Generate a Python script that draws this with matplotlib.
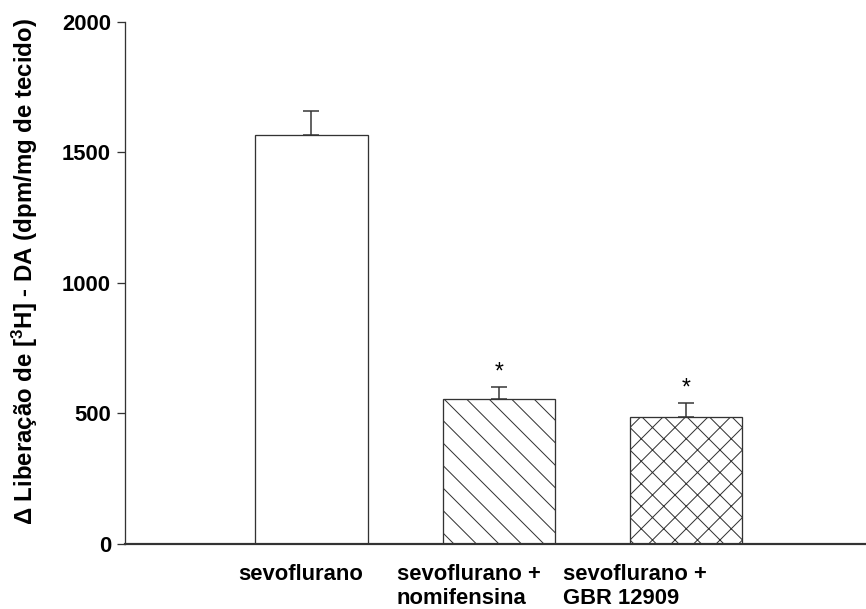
import numpy as np
import matplotlib
matplotlib.use("Agg")
import matplotlib.pyplot as plt

# data
groups = ["sevoflurano", "sevoflurano +\nnomifensina", "sevoflurano +\nGBR 12909"]
values = [1567, 554, 485]
errors = [91, 48, 56]
hatches = ["", "\\\\", "xx"]
signif = ["", "*", "*"]

DPI = 135
px = 72.0 / DPI  # points per pixel

plt.rcParams["font.family"] = ["Liberation Sans", "DejaVu Sans"]
plt.rcParams["font.weight"] = "bold"
plt.rcParams["mathtext.fontset"] = "custom"
plt.rcParams["mathtext.bf"] = "Liberation Sans:bold"
plt.rcParams["mathtext.rm"] = "Liberation Sans:bold"
plt.rcParams["hatch.linewidth"] = 1.0 * px
plt.rcParams["hatch.color"] = "black"

fig = plt.figure(figsize=(866 / DPI, 609 / DPI), dpi=DPI)
ax = fig.add_axes([125 / 866, 65 / 609, 1 - 125 / 866, (544 - 21.7) / 609])

x = np.arange(len(groups))
ax.bar(x, values, width=0.6, color="white", edgecolor="#333333",
       linewidth=1.3 * px, hatch=hatches, zorder=2)
ax.errorbar(x, values, yerr=[np.zeros(len(errors)), errors], fmt="none",
            ecolor="#333333", elinewidth=1.5 * px, capsize=8 * px,
            capthick=1.5 * px, zorder=3)

for xi, v, e, s in zip(x, values, errors, signif):
    if s:
        ax.text(xi, v + e + 12, s, ha="center", va="bottom",
                fontsize=23 * px, fontweight="normal")

ax.set_xlim(-0.995, 2.96)
ax.set_ylim(0, 2000)
ax.set_yticks([0, 500, 1000, 1500, 2000])
# labels start left of the bar centres in the original (offsets in bar spacings)
label_shift = np.array([-0.39, -0.545, -0.658])
ax.set_xticks(x + label_shift)
ax.set_xticklabels(groups, fontsize=22 * px, fontweight="bold",
                   linespacing=1.2, ha="left", multialignment="left")
ax.tick_params(axis="x", length=0, pad=20 * px)
ax.tick_params(axis="y", length=8 * px, width=1.3 * px, pad=6 * px,
               labelsize=22 * px, color="#333333")
for lbl in ax.get_yticklabels():
    lbl.set_fontweight("bold")

ax.spines["top"].set_visible(False)
ax.spines["right"].set_visible(False)
ax.spines["left"].set_linewidth(1.3 * px)
ax.spines["left"].set_color("#333333")
ax.spines["bottom"].set_linewidth(2.2 * px)
ax.spines["bottom"].set_color("#333333")

ax.set_ylabel(r"Δ Liberação de [$\mathbf{^{3}}$H] - DA (dpm/mg de tecido)",
              fontsize=24 * px, fontweight="bold")
ax.yaxis.set_label_coords(-85 / 741, 0.521)

fig.savefig("out.png", dpi=DPI)
